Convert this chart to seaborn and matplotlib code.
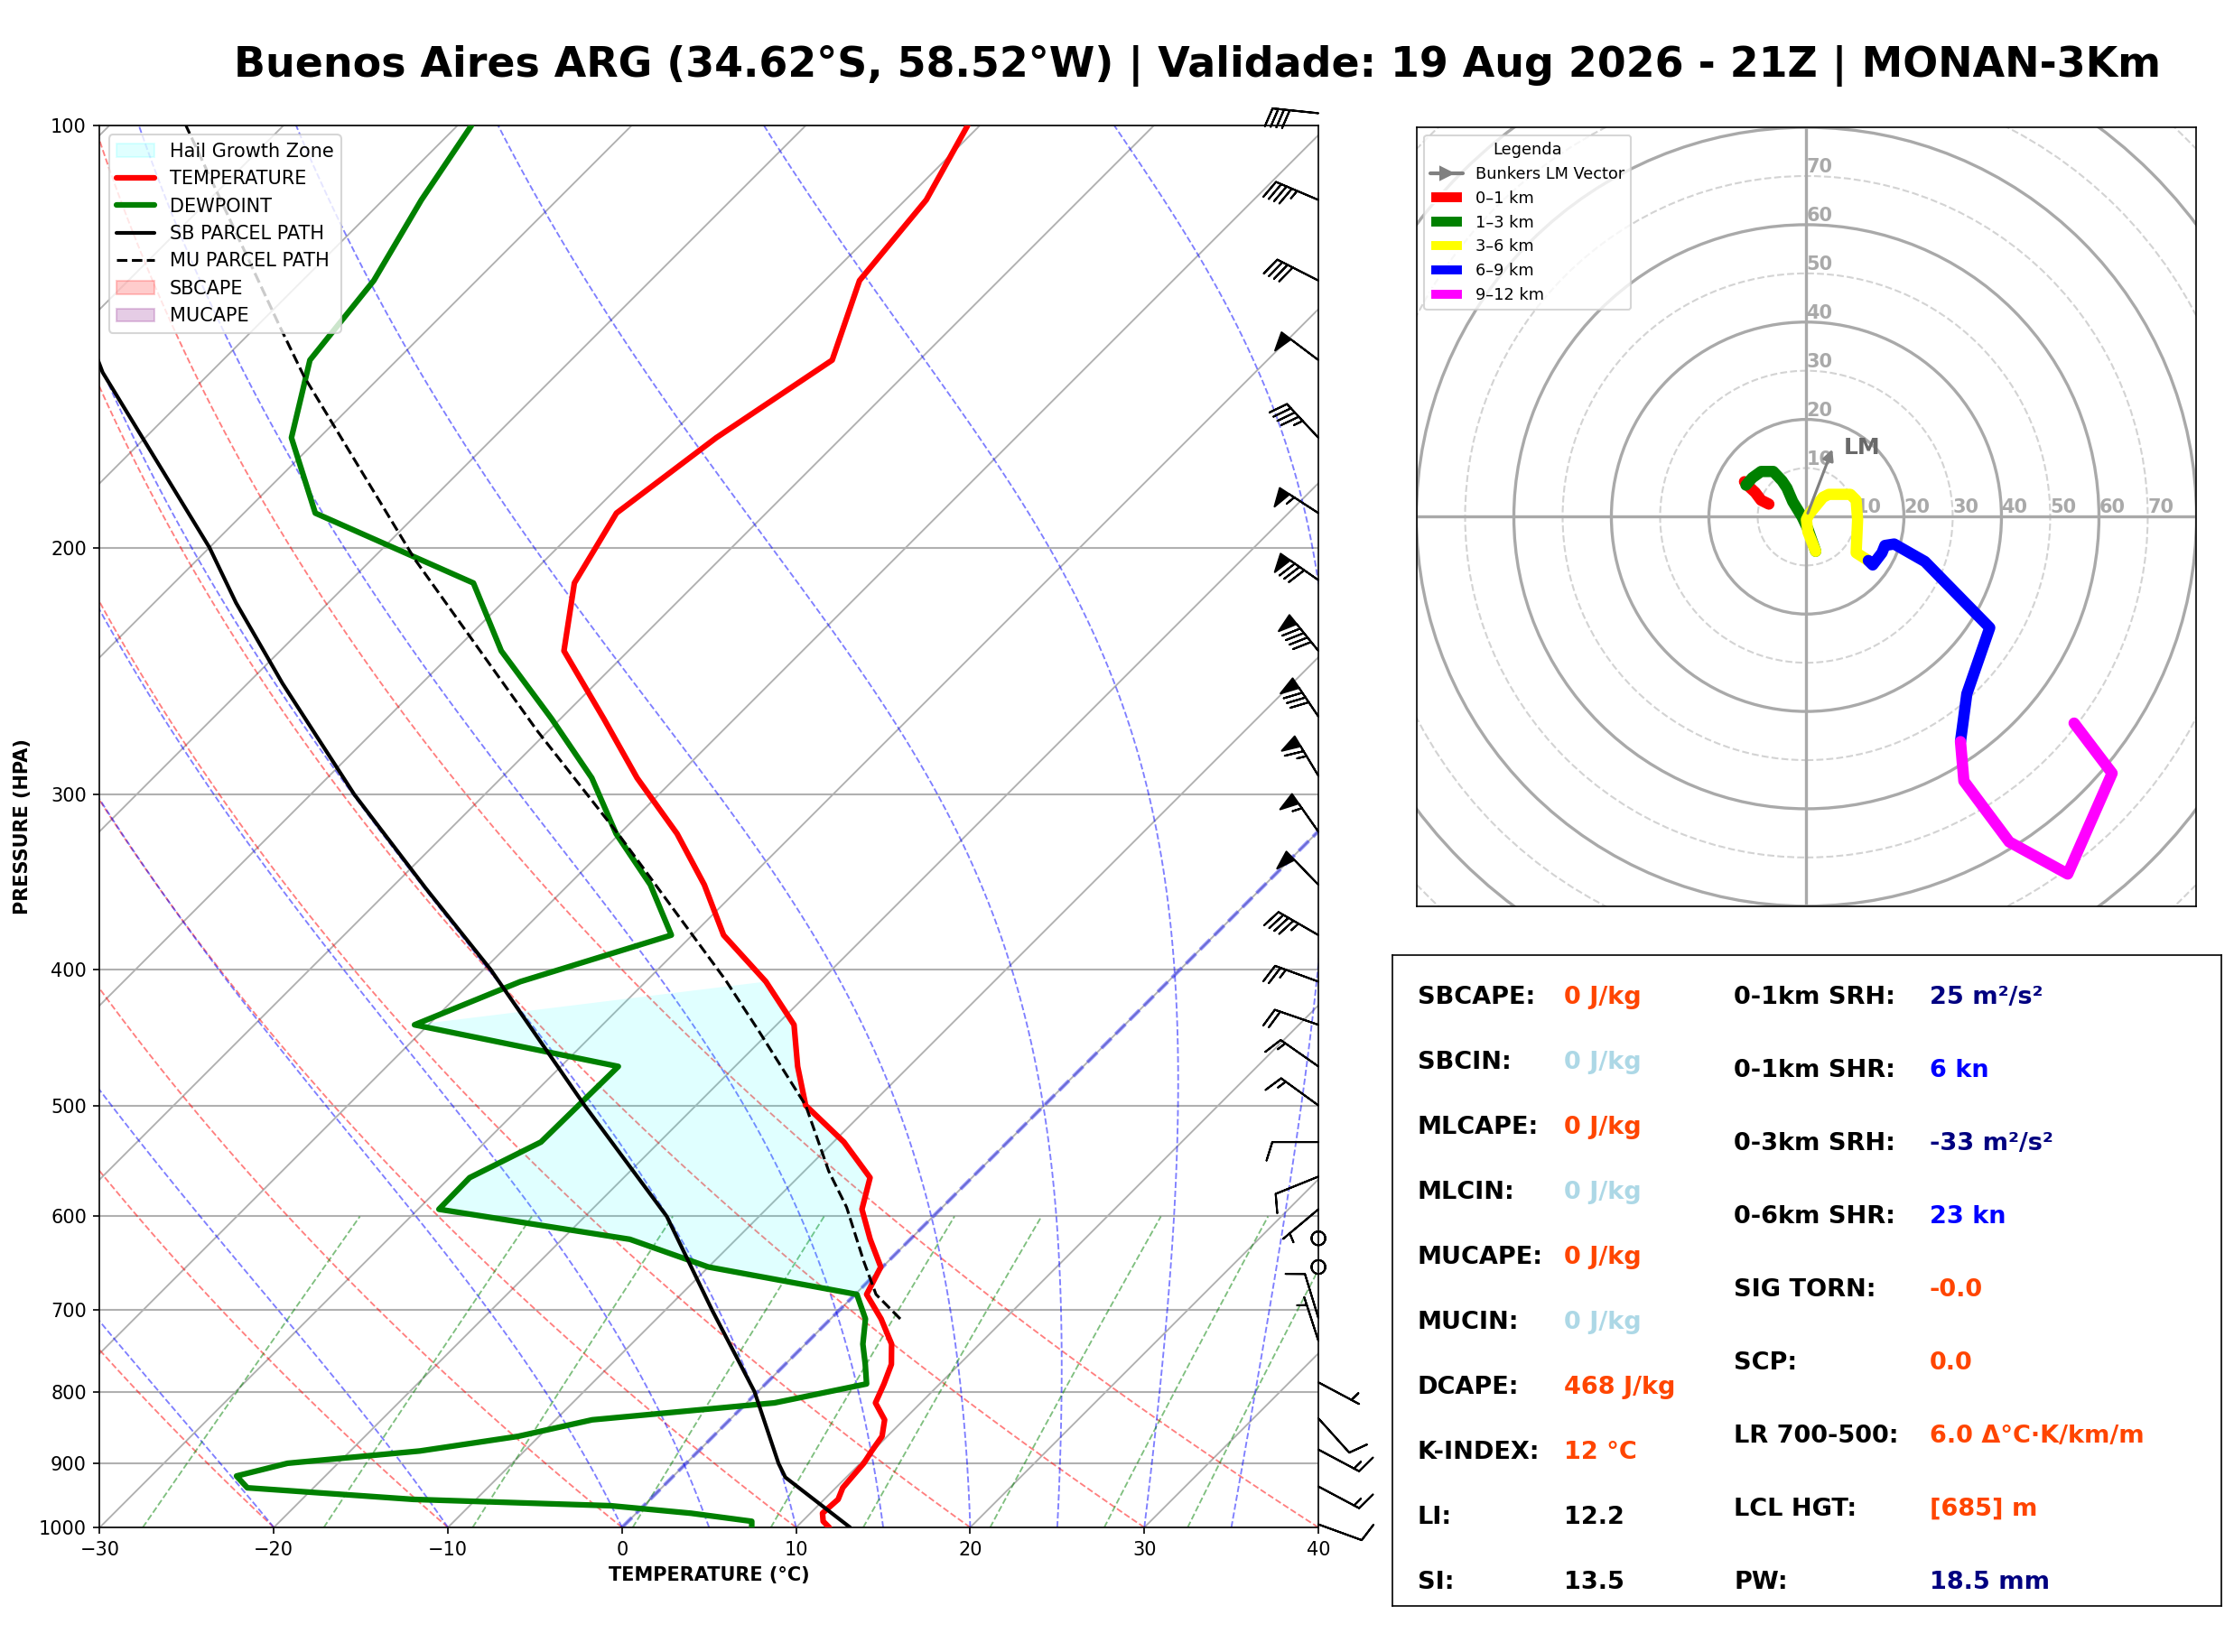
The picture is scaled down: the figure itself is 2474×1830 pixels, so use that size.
import numpy as np
import matplotlib
matplotlib.use("Agg")
import matplotlib.pyplot as plt
import matplotlib.transforms as mtransforms
from matplotlib.patches import Patch, Circle
from matplotlib.lines import Line2D
from matplotlib.ticker import FixedLocator, FixedFormatter, NullLocator
import seaborn as sns

title = "Buenos Aires ARG (34.62°S, 58.52°W) | Validade: 19 Aug 2026 - 21Z | MONAN-3Km"

pres = np.array([1000, 990, 977, 965, 955, 937, 919, 900, 882, 861, 838, 815, 790, 765,
                 740, 710, 682, 652, 623, 593, 563, 531, 500, 469, 438, 408, 378, 348,
                 320, 292, 265, 237, 212, 189, 167, 147, 129, 113, 100])
temp = np.array([11.9, 11.2, 10.7, 10.75, 10.8, 10.4, 10.3, 10.2, 9.95, 9.7, 8.9, 7.4, 6.8, 6.1,
                 4.95, 2.9, 0.66, -0.1, -2.3, -4.5, -5.85, -9.4, -13.7, -16.4, -19.0, -23.1, -28.2, -32.2,
                 -36.7, -42.2, -47.5, -53.7, -57.0, -58.6, -57.2, -55.0, -58.0, -58.8, -60.7])
dewp = np.array([7.45, 7.1, 3.15, -1.9, -13.6, -23.8, -25.1, -22.9, -16.0, -11.2, -7.9, 1.6, 5.8, 4.6,
                 3.3, 2.0, 0.1, -10.0, -16.1, -28.8, -28.85, -26.8, -26.75, -26.7, -40.8, -37.2, -31.2, -35.3,
                 -40.2, -44.8, -50.5, -57.3, -62.8, -75.9, -81.6, -85.0, -85.9, -87.8, -89.2])

sb_pres = [1000, 921, 900, 800, 700, 600, 500, 400, 350, 300, 250, 219, 200, 150, 125, 100]
sb_temp = [13.1, 6.5, 5.3, -0.2, -7.3, -15.3, -26.4, -39.6, -48.0, -57.5, -68.0, -75.3, -80.0,
           -96.2, -105.0, -115.5]

mu_pres = [710, 682, 646, 591, 557, 500, 443, 407, 321, 270, 204, 151, 139, 100]
mu_temp = [4.0, 1.2, -1.4, -5.5, -8.6, -13.7, -20.6, -25.5, -39.9, -50.7, -67.5, -84.4, -88.7, -105.6]

hgz_bottom = 682
hgz_top_temp = 408
hgz_top_dewp = 438

barb_pres = [98, 113, 129, 147, 167, 189, 211, 237, 264, 291, 319, 348, 378, 408, 438,
             469, 500, 531, 562, 593, 622, 652, 709, 736, 788, 836, 880, 935, 995]
barb_dir = [276, 293, 297, 307, 317, 303, 305, 321, 326, 329, 325, 316, 300, 290, 289,
            305, 306, 270, 248, 230, 0, 0, 343, 342, 118, 138, 118, 118, 110]
barb_spd = [40, 45, 40, 50, 45, 55, 80, 90, 80, 65, 55, 50, 45, 25, 20,
            15, 15, 10, 10, 5, 0, 0, 10, 5, 5, 10, 15, 15, 10]

# hodograph (kt) by layer
hodo_u_01 = [-7.7, -9.3, -10.5, -12.0, -12.7]
hodo_v_01 = [2.6, 3.4, 5.0, 6.4, 7.2]
hodo_u_13 = [-12.4, -11.1, -9.3, -6.8, -5.0, -4.0, -2.8, -0.9, 0.3, 1.9]
hodo_v_13 = [6.5, 8.0, 9.3, 9.3, 7.4, 5.9, 3.1, 0.0, -2.5, -7.1]
hodo_u_36 = [1.9, 0.3, 0.0, 0.6, 3.4, 4.6, 9.0, 10.2, 10.5, 10.2, 12.7]
hodo_v_36 = [-7.1, -3.1, -0.6, 0.6, 4.0, 4.6, 4.6, 3.4, -0.6, -7.4, -9.0]
hodo_u_69 = [12.7, 13.6, 15.5, 16.1, 18.0, 24.3, 37.6, 32.9, 31.6]
hodo_v_69 = [-9.0, -9.9, -7.4, -5.9, -5.6, -9.2, -22.8, -36.4, -46.2]
hodo_u_912 = [31.6, 32.3, 41.6, 53.6, 62.7, 54.9]
hodo_v_912 = [-46.2, -54.3, -66.8, -73.4, -52.7, -42.4]
bunkers_lm = (5.6, 14.6)

left_labels = ["SBCAPE:", "SBCIN:", "MLCAPE:", "MLCIN:", "MUCAPE:", "MUCIN:",
               "DCAPE:", "K-INDEX:", "LI:", "SI:"]
left_values = ["0 J/kg", "0 J/kg", "0 J/kg", "0 J/kg", "0 J/kg", "0 J/kg",
               "468 J/kg", "12 °C", "12.2", "13.5"]
left_colors = ["orangered", "lightblue", "orangered", "lightblue", "orangered", "lightblue",
               "orangered", "orangered", "black", "black"]
right_labels = ["0-1km SRH:", "0-1km SHR:", "0-3km SRH:", "0-6km SHR:", "SIG TORN:",
                "SCP:", "LR 700-500:", "LCL HGT:", "PW:"]
right_values = ["25 m²/s²", "6 kn", "-33 m²/s²", "23 kn", "-0.0",
                "0.0", "6.0 Δ°C·K/km/m", "[685] m", "18.5 mm"]
right_colors = ["navy", "blue", "navy", "blue", "orangered",
                "orangered", "orangered", "orangered", "navy"]

# ---------------- thermodynamic helpers for background lines ----------------
RD, CP, LV, EPS = 287.04, 1005.7, 2.501e6, 0.622


def sat_vp(tk):
    return 6.112 * np.exp(17.67 * (tk - 273.15) / (tk - 29.65))


def dtdp(tk, p):
    es = sat_vp(tk)
    rs = EPS * es / (p - es)
    frac = (RD * tk + LV * rs) / (CP + LV * LV * rs * EPS / (RD * tk * tk))
    return frac / p


def moist_path(t0, p_arr):
    tk = t0 + 273.15
    out = [tk]
    for p0, p1 in zip(p_arr[:-1], p_arr[1:]):
        n = 8
        dp = (p1 - p0) / n
        p = p0
        for _ in range(n):
            k1 = dtdp(tk, p)
            k2 = dtdp(tk + k1 * dp / 2, p + dp / 2)
            tk = tk + k2 * dp
            p = p + dp
        out.append(tk)
    return np.array(out) - 273.15


# ---------------- figure ----------------
sns.set_style("ticks", {"axes.edgecolor": "black", "xtick.color": "black", "ytick.color": "black",
                        "text.color": "black", "axes.labelcolor": "black"})
plt.rcParams["font.family"] = ["DejaVu Sans"]

fig = plt.figure(figsize=(2474 / 150, 1830 / 150), dpi=150)
skew_pos = [0.04466, 0.07541, 0.5455, 0.8486]
ax = fig.add_axes(skew_pos)
ax.set_yscale("log")
ax.set_xlim(-30, 40)
ax.set_ylim(1000, 100)

fw, fh = fig.get_size_inches()
k = (skew_pos[3] * fh) / (skew_pos[2] * fw)
tskew = ax.transScale + ax.transLimits + mtransforms.Affine2D().skew(np.arctan(k), 0) + ax.transAxes

p_bg = np.geomspace(1000, 100, 120)

# isotherms
for t in range(-120, 50, 10):
    ax.plot([t, t], [1000, 100], color="#b0b0b0", lw=0.9, transform=tskew, zorder=0.6)
# dry adiabats
for th in range(-30, 41, 10):
    ax.plot((th + 273.15) * (p_bg / 1000) ** (RD / CP) - 273.15, p_bg, color="r", ls="--",
            lw=0.9, alpha=0.5, transform=tskew, zorder=0.7)
# moist adiabats
for t0 in list(range(-30, 0, 10)) + list(range(0, 41, 5)):
    ax.plot(moist_path(t0, p_bg), p_bg, color="b", ls="--", lw=0.9, alpha=0.5,
            transform=tskew, zorder=0.7)
# mixing ratio lines
p_mr = np.linspace(1000, 600, 30)
for w in [0.0004, 0.001, 0.002, 0.004, 0.007, 0.01, 0.016, 0.024, 0.032]:
    e = p_mr * w / (EPS + w)
    lg = np.log(e / 6.112)
    ax.plot(243.5 * lg / (17.67 - lg), p_mr, color="g", ls="--", lw=0.9, alpha=0.5,
            transform=tskew, zorder=0.7)
# 0 C isotherm
ax.plot([0, 0], [1000, 100], color="b", ls="--", lw=2, alpha=0.4, transform=tskew, zorder=0.8)

# hail growth zone
mt = (pres <= hgz_bottom) & (pres >= hgz_top_temp)
md = (pres <= hgz_bottom) & (pres >= hgz_top_dewp)
ax.fill(np.concatenate([temp[mt], dewp[md][::-1]]), np.concatenate([pres[mt], pres[md][::-1]]),
        color="cyan", alpha=0.12, lw=0, transform=tskew, zorder=1)

ax.plot(temp, pres, color="red", lw=3, transform=tskew, zorder=4)
ax.plot(dewp, pres, color="green", lw=3, transform=tskew, zorder=4)
ax.plot(sb_temp, sb_pres, color="black", lw=2, transform=tskew, zorder=4)
ax.plot(mu_temp, mu_pres, color="black", lw=1.5, ls="--", transform=tskew, zorder=4)

# wind barbs on the right edge
wd = np.deg2rad(np.array(barb_dir))
ws = np.array(barb_spd, dtype=float)
bu = -ws * np.sin(wd)
bv = -ws * np.cos(wd)
btrans = mtransforms.blended_transform_factory(ax.transAxes, ax.transData)
ax.barbs(np.ones(len(barb_pres)), barb_pres, bu, bv, transform=btrans, clip_on=False,
         length=7, flip_barb=True, zorder=6)

ax.set_xlim(-30, 40)
ax.set_ylim(1000, 100)
ax.yaxis.set_major_locator(FixedLocator(list(range(100, 1001, 100))))
ax.yaxis.set_major_formatter(FixedFormatter([str(v) for v in range(100, 1001, 100)]))
ax.yaxis.set_minor_locator(NullLocator())
ax.set_xticks(range(-30, 41, 10))
ax.tick_params(labelsize=10)
ax.grid(axis="y", color="#b0b0b0", lw=1)
ax.set_xlabel("TEMPERATURE (°C)", fontsize=10, fontweight="bold")
ax.set_ylabel("PRESSURE (HPA)", fontsize=10, fontweight="bold")

handles = [
    Patch(facecolor="cyan", edgecolor="cyan", alpha=0.12, label="Hail Growth Zone"),
    Line2D([], [], color="red", lw=3, label="TEMPERATURE"),
    Line2D([], [], color="green", lw=3, label="DEWPOINT"),
    Line2D([], [], color="black", lw=2, label="SB PARCEL PATH"),
    Line2D([], [], color="black", lw=1.5, ls="--", label="MU PARCEL PATH"),
    Patch(facecolor="red", edgecolor="red", alpha=0.2, label="SBCAPE"),
    Patch(facecolor="purple", edgecolor="purple", alpha=0.2, label="MUCAPE"),
]
ax.legend(handles=handles, loc="upper left", fontsize=10)

# ---------------- hodograph ----------------
axh = fig.add_axes([0.6340, 0.4515, 0.3492, 0.4714])
for r in range(10, 130, 10):
    if r % 20 == 0:
        axh.add_patch(Circle((0, 0), r, fill=False, color="darkgray", lw=1.6, zorder=1))
    else:
        axh.add_patch(Circle((0, 0), r, fill=False, color="lightgray", ls="--", lw=1, zorder=1))
axh.axhline(0, color="darkgray", lw=1.6, zorder=1)
axh.axvline(0, color="darkgray", lw=1.6, zorder=1)
for r in range(10, 80, 10):
    axh.text(r, 0, str(r), color="darkgray", fontsize=10, fontweight="bold", ha="left", va="bottom")
    axh.text(0, r, str(r), color="darkgray", fontsize=10, fontweight="bold", ha="left", va="bottom")

layers = [(hodo_u_01, hodo_v_01, "red", "0–1 km"),
          (hodo_u_13, hodo_v_13, "green", "1–3 km"),
          (hodo_u_36, hodo_v_36, "yellow", "3–6 km"),
          (hodo_u_69, hodo_v_69, "blue", "6–9 km"),
          (hodo_u_912, hodo_v_912, "magenta", "9–12 km")]
for hu, hv, col, lab in layers:
    sns.lineplot(x=hu, y=hv, ax=axh, color=col, lw=6, sort=False, estimator=None,
                 legend=False, zorder=3)

axh.annotate("", xy=bunkers_lm, xytext=(0, 0),
             arrowprops=dict(arrowstyle="-|>", color="gray", lw=1.5, mutation_scale=12), zorder=4)
axh.text(bunkers_lm[0] + 2, bunkers_lm[1] - 0.4, "LM", color="dimgray", fontsize=12,
         fontweight="bold", ha="left", va="center")

axh.set_xlim(-80, 80)
axh.set_ylim(-80, 80)
axh.set_xticks([])
axh.set_yticks([])
axh.set_xlabel("")
axh.set_ylabel("")
hh = [Line2D([], [], color="gray", lw=2, marker=">", markersize=7, label="Bunkers LM Vector")]
hh += [Patch(facecolor=c, label=lab) for _, _, c, lab in layers]
axh.legend(handles=hh, loc="upper left", title="Legenda", fontsize=8.5, title_fontsize=8.5)

# ---------------- indices box ----------------
axt = fig.add_axes([0.6233, 0.0278, 0.3711, 0.3938])
axt.set_xlim(0, 1)
axt.set_ylim(0, 1)
axt.set_xticks([])
axt.set_yticks([])
for i, (lab, val, col) in enumerate(zip(left_labels, left_values, left_colors)):
    y = 0.936 - i * 0.0999
    axt.text(0.03, y, lab, fontsize=13, fontweight="bold", va="center")
    axt.text(0.207, y, val, fontsize=13, fontweight="bold", va="center", color=col)
for i, (lab, val, col) in enumerate(zip(right_labels, right_values, right_colors)):
    y = 0.936 - i * 0.1124
    axt.text(0.412, y, lab, fontsize=13, fontweight="bold", va="center")
    axt.text(0.648, y, val, fontsize=13, fontweight="bold", va="center", color=col)

fig.text(0.536, 0.960, title, ha="center", va="center", fontsize=22, fontweight="bold")

fig.savefig("out.png", dpi=150)
